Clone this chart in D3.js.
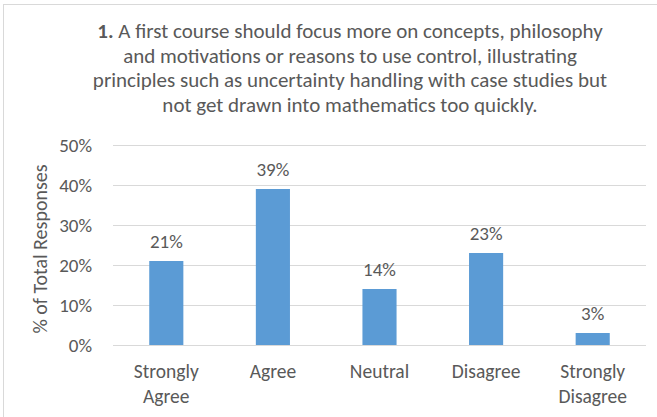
<!DOCTYPE html>
<html>
<head>
<meta charset="utf-8">
<script src="https://cdn.jsdelivr.net/npm/d3@7"></script>
<style>
  body { margin: 0; background: #fff; }
  text { font-family: Carlito, Calibri, Lato, "Open Sans", sans-serif; fill: #595959; }
</style>
</head>
<body>
<svg id="chart" width="657" height="417"></svg>
<script>
var categories = [["Strongly", "Agree"], ["Agree"], ["Neutral"], ["Disagree"], ["Strongly", "Disagree"]];
var values = [21, 39, 14, 23, 3];
var yTicks = [0, 10, 20, 30, 40, 50];
var titleLines = [
  "A first course should focus more on concepts, philosophy",
  "and motivations or reasons to use control, illustrating",
  "principles such as uncertainty handling with case studies but",
  "not get drawn into mathematics too quickly."
];

var svg = d3.select("#chart");

// chart border
svg.append("rect")
  .attr("x", 3.5).attr("y", 4.5)
  .attr("width", 670).attr("height", 430)
  .attr("fill", "none").attr("stroke", "#d9d9d9");

var margin = {left: 113, right: 11, top: 145, bottom: 72};
var w = 657 - margin.left - margin.right,
    h = 417 - margin.top - margin.bottom;

var x = d3.scaleBand()
  .domain(d3.range(values.length))
  .range([margin.left, margin.left + w])
  .paddingInner(0.68).paddingOuter(0.34);

var y = d3.scaleLinear().domain([0, 50]).range([margin.top + h, margin.top]);

// gridlines
svg.append("g").selectAll("line")
  .data(yTicks).enter().append("line")
  .attr("x1", margin.left).attr("x2", margin.left + w)
  .attr("y1", function(d) { return Math.round(y(d)) + 0.5; })
  .attr("y2", function(d) { return Math.round(y(d)) + 0.5; })
  .attr("stroke", "#d9d9d9").attr("stroke-width", 1);

// y tick labels
svg.append("g").selectAll("text")
  .data(yTicks).enter().append("text")
  .attr("x", 92)
  .attr("y", function(d) { return y(d) + 7; })
  .attr("text-anchor", "end")
  .attr("font-size", "19px")
  .text(function(d) { return d + "%"; });

// y axis title
svg.append("text")
  .attr("transform", "translate(47,249) rotate(-90)")
  .attr("text-anchor", "middle")
  .attr("font-size", "20px")
  .text("% of Total Responses");

// bars
svg.append("g").selectAll("rect")
  .data(values).enter().append("rect")
  .attr("x", function(d, i) { return x(i); })
  .attr("y", function(d) { return y(d); })
  .attr("width", x.bandwidth())
  .attr("height", function(d) { return y(0) - y(d); })
  .attr("fill", "#5b9bd5");

// data labels
svg.append("g").selectAll("text")
  .data(values).enter().append("text")
  .attr("x", function(d, i) { return x(i) + x.bandwidth() / 2; })
  .attr("y", function(d) { return y(d) - 13; })
  .attr("text-anchor", "middle")
  .attr("font-size", "19px")
  .text(function(d) { return d + "%"; });

// category labels
var cat = svg.append("g").selectAll("text")
  .data(categories).enter().append("text")
  .attr("text-anchor", "middle")
  .attr("font-size", "19.5px");
cat.selectAll("tspan")
  .data(function(d, i) { return d.map(function(s) { return {s: s, i: i}; }); })
  .enter().append("tspan")
  .attr("x", function(d) { return x(d.i) + x.bandwidth() / 2; })
  .attr("y", function(d, j) { return 378 + j * 25; })
  .text(function(d) { return d.s; });

// title
var title = svg.append("g").selectAll("text")
  .data(titleLines).enter().append("text")
  .attr("x", 350)
  .attr("y", function(d, i) { return 38 + i * 24.7; })
  .attr("text-anchor", "middle")
  .attr("font-size", "21px");
title.each(function(d, i) {
  var t = d3.select(this);
  if (i === 0) t.append("tspan").attr("font-weight", "bold").text("1. ");
  t.append("tspan").text(d);
});
</script>
</body>
</html>
